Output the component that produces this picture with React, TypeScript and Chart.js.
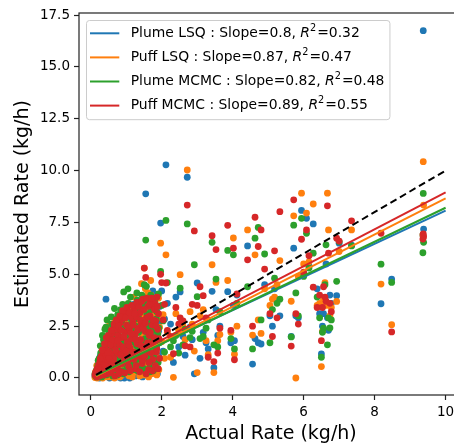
import React, { useEffect, useRef } from "react";
import { Chart, registerables } from "chart.js";

Chart.register(...registerables);

// ---------------- data ----------------
const actualRate = [
  0.12, 0.14, 0.16, 0.18, 0.2, 0.22, 0.24, 0.26, 0.28, 0.3,
  0.32, 0.34, 0.36, 0.38, 0.4, 0.43, 0.45, 0.47, 0.49, 0.51,
  0.53, 0.55, 0.57, 0.59, 0.61, 0.63, 0.65, 0.67, 0.69, 0.71,
  0.73, 0.75, 0.77, 0.79, 0.81, 0.83, 0.85, 0.87, 0.89, 0.91,
  0.93, 0.95, 0.97, 0.99, 1.01, 1.03, 1.05, 1.07, 1.09, 1.11,
  1.13, 1.15, 1.17, 1.19, 1.21, 1.23, 1.25, 1.27, 1.29, 1.31,
  1.33, 1.35, 1.37, 1.39, 1.41, 1.43, 1.45, 1.47, 1.49, 1.51,
  1.53, 1.55, 1.57, 1.59, 1.61, 1.63, 1.65, 1.67, 1.69, 1.71,
  1.73, 1.75, 1.77, 1.79, 1.81, 1.83, 1.85, 1.87, 1.89, 1.91,
  1.94, 1.97, 2.0, 2.04, 2.08, 2.12, 2.16,
  2.25, 2.33, 2.4, 2.48, 2.52, 2.6, 2.66, 2.72, 2.8, 2.86,
  2.92, 3.0, 3.08, 3.17, 3.25, 3.31, 3.42, 3.47, 3.53, 3.58,
  3.64, 3.86, 3.95, 4.02, 4.05, 4.12, 4.42, 4.56, 4.63, 4.72,
  4.8, 4.9, 5.05, 5.12, 5.18, 5.25, 5.33, 5.65, 5.72, 5.78,
  5.85, 5.94, 6.0, 6.08, 6.15, 6.27, 6.38, 6.45, 6.5, 6.53,
  6.56, 6.6, 6.63, 6.67, 6.7, 6.74, 6.78, 6.93, 7.0, 7.35,
  8.18, 8.48, 9.37, 9.38, 9.36,
  0.17, 0.21, 0.25, 0.27, 0.31, 0.33, 0.37, 0.39, 0.41, 0.44,
  0.46, 0.48, 0.5, 0.52, 0.54, 0.56, 0.58, 0.6, 0.62, 0.64,
  0.66, 0.68, 0.7, 0.72, 0.74, 0.76, 0.78, 0.8, 0.82, 0.84,
  0.86, 0.88, 0.9, 0.92, 0.94, 0.96, 0.98, 1.0, 1.02, 1.04,
  1.06, 1.08, 1.1, 1.12, 1.14, 1.16, 1.18, 1.2, 1.22, 1.24,
  1.26, 1.28, 1.3, 1.32, 1.34, 1.36, 1.38, 1.4, 1.42, 1.44,
  1.46, 1.48, 1.5, 1.52, 1.54, 1.56, 1.58, 1.6, 1.62, 1.64,
  1.66, 1.68, 1.7, 1.72, 1.74, 1.76, 1.78, 1.8, 1.82, 1.84,
  1.86, 1.88, 1.9, 1.92,
];

const plumeLSQ = [
  0.1, 0.22, 0.05, 0.4, 0.18, 0.02, 0.6, 0.3, 0.12, 0.85,
  0.05, 0.45, 1.3, 0.2, 0.65, 3.8, 0.1, 1.0, 0.35, 1.6,
  0.0, 0.8, 0.25, 1.15, 0.55, 0.05, 1.85, 0.7, 1.4, 0.3,
  2.1, 0.95, 0.15, 1.6, 0.5, 2.4, 1.1, 0.2, 1.75, 0.6,
  3.3, 0.0, 1.3, 2.2, 0.85, 0.3, 2.6, 1.5, 0.5, 1.95,
  0.15, 2.8, 1.0, 2.3, 0.65, 3.0, 1.55, 0.35, 2.55, 1.2,
  3.45, 0.7, 1.85, 2.95, 0.2, 2.15, 1.4, 3.7, 0.95, 2.7,
  1.65, 8.88, 0.45, 2.35, 3.9, 1.1, 2.0, 0.3, 3.2, 1.45,
  0.7, 4.2, 2.55, 0.55, 1.9, 3.95, 1.2, 2.8, 0.85, 2.25,
  3.45, 7.47, 4.2, 1.3, 2.85, 10.28, 3.6,
  2.6, 0.75, 3.9, 1.5, 4.15, 2.0, 1.1, 9.68, 2.45, 1.85,
  0.2, 4.58, 0.95, 2.2, 1.7, 1.4, 4.18, 0.5, 3.3, 2.05,
  2.5, 4.16, 1.7, 3.5, 1.8, 4.0, 6.37, 0.67, 1.9, 1.7,
  1.64, 4.5, 3.0, 2.5, 4.3, 3.7, 3.0, 2.0, 6.26, 3.0,
  2.9, 8.08, 5.0, 7.7, 5.4, 7.43, 4.3, 3.1, 1.16, 2.5,
  3.1, 3.8, 5.5, 2.9, 2.3, 4.0, 3.6, 3.97, 6.5, 6.4,
  3.58, 4.77, 16.75, 7.18, 6.9,
  0.35, 0.7, 0.0, 1.05, 0.4, 0.75, 1.55, 0.1, 2.0, 0.55,
  1.25, 0.15, 2.35, 0.9, 0.05, 1.75, 0.45, 2.5, 1.0, 0.2,
  2.2, 0.6, 1.65, 0.05, 2.65, 1.3, 0.35, 2.9, 1.7, 0.0,
  2.45, 0.85, 1.95, 0.4, 2.75, 1.2, 0.1, 3.1, 1.55, 0.65,
  2.35, 1.05, 0.0, 3.2, 1.45, 0.4, 2.1, 3.55, 0.85, 1.9,
  0.1, 3.0, 1.35, 0.55, 2.6, 0.25, 3.35, 1.7, 0.8, 2.4,
  0.05, 3.1, 1.15, 2.05, 0.35, 3.5, 1.6, 0.6, 2.9, 0.15,
  3.65, 1.35, 0.4, 2.65, 1.0, 3.3, 0.25, 2.15, 0.9, 3.1,
  1.55, 0.2, 2.7, 1.05,
];

const puffLSQ = [
  0.02, 0.3, 0.12, 0.0, 0.55, 0.2, 0.38, 0.05, 0.75, 0.25,
  1.1, 0.0, 0.6, 0.95, 1.5, 2.4, 0.3, 1.25, 0.05, 1.8,
  0.7, 2.05, 0.15, 1.0, 2.5, 0.4, 1.4, 0.0, 1.65, 0.85,
  2.25, 0.2, 1.2, 2.7, 0.55, 1.9, 0.1, 1.5, 3.1, 0.8,
  2.95, 1.2, 0.3, 2.1, 1.55, 0.6, 3.0, 2.4, 3.45, 0.95,
  1.85, 2.65, 0.05, 1.35, 2.9, 2.0, 0.5, 1.7, 3.3, 0.85,
  2.55, 1.25, 3.65, 0.3, 2.15, 4.55, 1.05, 2.8, 0.15, 5.3,
  1.6, 3.7, 0.65, 2.6, 4.1, 0.05, 3.2, 1.85, 4.7, 0.9,
  2.3, 1.45, 3.5, 0.35, 2.75, 1.5, 3.05, 1.0, 2.15, 3.85,
  2.45, 6.5, 1.75, 3.05, 0.95, 5.94, 2.2,
  1.0, 0.03, 3.1, 2.3, 4.98, 2.5, 1.85, 10.03, 3.2, 2.6,
  1.3, 0.26, 3.0, 3.3, 1.8, 1.12, 5.46, 0.26, 4.61, 1.8,
  2.1, 4.7, 2.2, 6.75, 1.15, 2.5, 7.14, 2.07, 5.94, 2.8,
  2.15, 4.3, 3.5, 3.8, 3.9, 4.5, 5.66, 3.7, 7.82, 0.0,
  4.9, 8.91, 5.5, 7.95, 5.6, 8.39, 3.5, 3.6, 0.55, 2.25,
  3.8, 4.6, 3.5, 8.91, 7.14, 3.0, 3.4, 3.69, 6.1, 7.14,
  4.53, 2.57, 10.43, 8.34, 6.9,
  0.6, 0.1, 0.9, 0.45, 1.3, 0.15, 0.8, 1.75, 0.35, 1.05,
  2.0, 0.5, 1.45, 0.25, 2.6, 0.9, 1.6, 0.05, 2.2, 1.15,
  0.55, 2.75, 0.25, 1.45, 2.0, 0.7, 3.0, 1.1, 0.05, 2.4,
  1.7, 0.4, 2.85, 0.95, 3.35, 0.2, 1.9, 2.6, 0.75, 3.55,
  1.3, 0.1, 2.3, 1.5, 3.15, 0.7, 2.4, 0.25, 3.9, 1.4,
  2.85, 0.45, 2.2, 3.6, 1.05, 2.5, 0.1, 3.4, 1.85, 0.4,
  3.1, 1.65, 2.9, 0.3, 4.3, 1.95, 0.85, 3.6, 1.25, 2.95,
  0.5, 2.35, 4.0, 0.2, 3.25, 1.7, 2.7, 0.6, 3.45, 1.25,
  0.15, 2.9, 1.8, 0.4,
];

const plumeMCMC = [
  0.2, 0.08, 0.35, 0.15, 0.6, 0.28, 0.95, 0.45, 1.2, 0.18,
  1.55, 0.7, 1.85, 0.4, 2.35, 2.45, 0.95, 0.25, 1.4, 0.6,
  1.95, 1.1, 0.35, 2.6, 1.65, 0.8, 2.1, 3.35, 0.5, 1.3,
  2.85, 0.15, 1.75, 1.0, 2.3, 0.7, 1.5, 2.75, 1.25, 0.35,
  4.15, 1.85, 0.9, 2.9, 1.6, 0.55, 4.3, 2.1, 1.2, 2.55,
  0.7, 3.1, 1.75, 0.4, 2.4, 3.5, 1.05, 2.85, 1.55, 3.75,
  0.9, 2.2, 1.35, 3.25, 0.6, 2.65, 1.8, 3.9, 1.1, 4.5,
  2.35, 6.65, 4.42, 1.45, 3.05, 0.85, 2.6, 0.3, 4.0, 1.95,
  3.4, 1.05, 2.3, 0.65, 3.65, 1.4, 2.85, 0.9, 2.1, 4.05,
  1.7, 5.14, 3.5, 2.75, 1.25, 7.6, 4.6,
  1.5, 1.8, 2.05, 1.2, 4.33, 1.6, 2.35, 7.43, 1.95, 2.25,
  5.46, 3.92, 1.9, 2.0, 2.4, 2.8, 6.54, 1.6, 4.77, 1.5,
  3.2, 6.15, 1.9, 5.94, 1.4, 3.6, 4.4, 1.4, 6.74, 7.26,
  2.8, 5.98, 1.7, 3.3, 4.81, 3.6, 3.8, 1.98, 7.37, 4.1,
  3.0, 7.7, 4.9, 6.98, 5.3, 6.02, 3.9, 2.9, 1.0, 2.2,
  2.4, 4.5, 6.42, 1.6, 2.9, 2.41, 2.8, 4.66, 6.58, 6.37,
  5.49, 4.61, 8.9, 6.54, 6.04,
  0.05, 0.85, 0.3, 1.55, 0.05, 2.05, 0.6, 1.05, 1.7, 0.15,
  2.8, 1.15, 0.35, 2.15, 1.45, 0.7, 2.95, 1.25, 0.1, 2.45,
  1.05, 1.9, 0.25, 2.65, 0.95, 3.05, 1.45, 0.35, 2.0, 3.3,
  0.8, 1.65, 3.55, 0.2, 2.4, 1.3, 3.2, 0.65, 2.55, 1.45,
  3.6, 0.3, 2.05, 3.9, 1.0, 2.75, 0.55, 1.95, 3.3, 0.8,
  2.5, 1.25, 4.1, 0.35, 2.95, 1.6, 3.45, 0.95, 2.35, 4.0,
  1.3, 2.7, 0.45, 3.55, 1.9, 0.2, 3.1, 2.2, 1.05, 3.8,
  2.45, 0.6, 3.3, 1.55, 2.8, 0.35, 3.7, 1.2, 2.5, 0.45,
  3.2, 1.85, 0.75, 2.4,
];

const puffMCMC = [
  0.15, 0.28, 0.1, 0.45, 0.3, 0.62, 0.2, 0.8, 0.5, 1.05,
  0.35, 0.9, 1.25, 0.65, 1.45, 1.1, 0.4, 1.7, 0.85, 1.3,
  0.55, 1.9, 1.15, 0.7, 2.15, 1.55, 0.95, 2.5, 1.8, 0.45,
  2.35, 1.2, 2.05, 0.65, 1.6, 2.65, 0.3, 1.95, 2.85, 1.35,
  3.05, 0.85, 2.2, 1.05, 2.55, 1.75, 3.2, 0.55, 2.35, 1.45,
  2.95, 1.9, 0.95, 2.7, 1.25, 3.35, 2.1, 0.45, 2.95, 1.65,
  3.55, 2.4, 1.05, 3.15, 1.85, 2.6, 0.7, 3.8, 1.5, 5.3,
  2.25, 4.85, 2.9, 1.3, 3.45, 0.4, 2.05, 3.0, 3.75, 1.6,
  2.55, 0.9, 3.4, 1.95, 3.6, 2.75, 1.25, 3.9, 2.35, 3.1,
  0.95, 5.0, 4.6, 2.8, 3.55, 4.58, 2.3,
  2.0, 1.17, 3.4, 2.6, 2.9, 2.75, 1.55, 8.34, 1.5, 3.55,
  7.09, 3.5, 4.4, 3.97, 2.9, 1.0, 6.86, 0.79, 6.19, 1.2,
  2.4, 7.36, 2.3, 6.26, 0.88, 4.05, 5.7, 2.5, 7.75, 6.34,
  7.14, 5.25, 3.1, 2.0, 6.13, 2.9, 8.02, 1.54, 8.59, 3.1,
  2.6, 6.69, 5.1, 7.14, 5.9, 4.38, 3.4, 4.0, 1.8, 3.4,
  4.4, 3.9, 3.7, 8.3, 6.02, 3.6, 3.2, 6.74, 6.6, 7.58,
  6.98, 2.22, 6.95, 6.81, 6.7,
  0.05, 0.42, 0.1, 0.95, 0.25, 1.35, 0.15, 1.65, 0.6, 1.95,
  0.2, 1.2, 2.05, 0.95, 0.25, 1.6, 2.3, 0.4, 1.85, 0.75,
  2.6, 0.1, 1.35, 2.8, 0.5, 1.8, 2.5, 0.2, 3.0, 1.1,
  2.3, 0.7, 3.25, 1.5, 2.0, 0.25, 2.9, 1.3, 3.4, 0.8,
  2.45, 1.6, 3.15, 0.35, 2.15, 3.5, 1.2, 2.55, 0.9, 3.1,
  1.85, 0.6, 3.65, 2.3, 1.15, 3.45, 0.3, 2.8, 1.55, 3.7,
  0.85, 2.4, 3.3, 1.05, 2.65, 0.2, 3.85, 1.7, 2.95, 0.75,
  3.55, 2.2, 1.2, 3.85, 0.35, 2.8, 1.75, 3.3, 0.6, 2.5,
  1.4, 3.45, 0.45, 1.9,
];

const seriesNames = ["Plume LSQ", "Puff LSQ", "Plume MCMC", "Puff MCMC"];
const seriesColors = ["#1f77b4", "#ff7f0e", "#2ca02c", "#d62728"];
const fitSlopes = [0.8, 0.87, 0.82, 0.89];
const fitIntercepts = [0.07, -0.04, 0.01, 0.05];
const fitR2 = [0.32, 0.47, 0.48, 0.55];
const fitRange = [0.15, 10];

const xTicks = [0, 2, 4, 6, 8, 10];
const yTicks = [0, 2.5, 5, 7.5, 10, 12.5, 15, 17.5];
const xLabel = "Actual Rate (kg/h)";
const yLabel = "Estimated Rate (kg/h)";

// ---------------- layout constants ----------------
const W = 480;
const H = 452;
const FONT = '"DejaVu Sans", "Noto Sans", sans-serif';

const frameLegendPlugin = {
  id: "frameLegend",
  afterDatasetsDraw(chart: any) {
    const { ctx, chartArea: ca } = chart;
    ctx.save();
    ctx.strokeStyle = "#222";
    ctx.lineWidth = 1.2;
    ctx.strokeRect(ca.left, ca.top, ca.right - ca.left, ca.bottom - ca.top);
    ctx.restore();
  },
  afterDraw(chart: any) {
    const { ctx, chartArea: ca } = chart;
    const fs = 13.9;
    const base = `${fs}px ${FONT}`;
    const ital = `italic ${fs}px ${FONT}`;
    const sup = `${fs * 0.7}px ${FONT}`;
    const boxX = ca.left + 7;
    const boxY = ca.top + 7;
    const textOff = 44.7;
    const rowFirst = 13.3;
    const rowGap = 24.1;
    const rows = seriesNames.map((n, i) => [
      { t: `${n} : Slope=${fitSlopes[i]}, `, f: base, dy: 0 },
      { t: "R", f: ital, dy: 0 },
      { t: "2", f: sup, dy: -fs * 0.36 },
      { t: `=${fitR2[i]}`, f: base, dy: 0 },
    ]);
    ctx.save();
    let maxW = 0;
    rows.forEach((parts) => {
      let w = 0;
      parts.forEach((p) => {
        ctx.font = p.f;
        w += ctx.measureText(p.t).width + (p.t === "2" ? 1 : 0);
      });
      maxW = Math.max(maxW, w);
    });
    const boxW = textOff + maxW + 5;
    const boxH = rowFirst * 2 + rowGap * 3 + 0.3;
    ctx.beginPath();
    if ((ctx as any).roundRect) (ctx as any).roundRect(boxX + 0.5, boxY + 0.5, boxW, boxH, 3);
    else ctx.rect(boxX + 0.5, boxY + 0.5, boxW, boxH);
    ctx.fillStyle = "rgba(255,255,255,0.8)";
    ctx.fill();
    ctx.strokeStyle = "#cccccc";
    ctx.lineWidth = 1;
    ctx.stroke();
    rows.forEach((parts, i) => {
      const y = boxY + rowFirst + rowGap * i;
      ctx.beginPath();
      ctx.strokeStyle = seriesColors[i];
      ctx.lineWidth = 2;
      ctx.moveTo(boxX + 4, y);
      ctx.lineTo(boxX + 33.3, y);
      ctx.stroke();
      let x = boxX + textOff;
      ctx.fillStyle = "#000";
      ctx.textBaseline = "middle";
      ctx.textAlign = "left";
      parts.forEach((p) => {
        ctx.font = p.f;
        ctx.fillText(p.t, x, y + p.dy);
        x += ctx.measureText(p.t).width + (p.t === "2" ? 1 : 0);
      });
    });
    ctx.restore();
  },
};

export default function App() {
  const ref = useRef<HTMLCanvasElement | null>(null);

  useEffect(() => {
    if (!ref.current) return;
    const estimates = [plumeLSQ, puffLSQ, plumeMCMC, puffMCMC];
    const scatterSets = estimates.map((ys, i) => ({
      label: seriesNames[i],
      data: actualRate.map((x, k) => ({ x, y: ys[k] })),
      backgroundColor: seriesColors[i],
      borderWidth: 0,
      pointRadius: 3.4,
      pointHoverRadius: 3.4,
      pointBorderWidth: 0,
      showLine: false,
      order: 20 - i,
    }));
    const fitSets = fitSlopes.map((s, i) => ({
      label: seriesNames[i] + " fit",
      data: fitRange.map((x) => ({ x, y: s * x + fitIntercepts[i] })),
      borderColor: seriesColors[i],
      backgroundColor: seriesColors[i],
      borderWidth: 2,
      pointRadius: 0,
      showLine: true,
      fill: false,
      order: 10 - i,
    }));
    const identitySet = {
      label: "1:1",
      data: fitRange.map((x) => ({ x, y: x })),
      borderColor: "#000",
      borderWidth: 2,
      borderDash: [7, 4],
      pointRadius: 0,
      showLine: true,
      fill: false,
      order: 1,
    };

    const tickFont = { family: FONT, size: 13.5 };
    const chart = new Chart(ref.current, {
      type: "scatter",
      data: { datasets: [...scatterSets, ...fitSets, identitySet] as any },
      options: {
        responsive: false,
        animation: false,
        devicePixelRatio: 1,
        layout: { padding: { left: 0, top: 13, right: 17, bottom: 0 } },
        plugins: { legend: { display: false }, tooltip: { enabled: false } },
        scales: {
          x: {
            type: "linear",
            min: -0.33,
            max: 10.49,
            afterBuildTicks: (s: any) => {
              s.ticks = xTicks.map((v) => ({ value: v }));
            },
            afterFit: (s: any) => {
              s.height = H - 395;
            },
            grid: { drawOnChartArea: false, drawTicks: true, tickLength: 5, tickColor: "#222", tickWidth: 1.2 },
            border: { display: false },
            ticks: { font: tickFont, color: "#000", padding: 4, maxRotation: 0, callback: (v: any) => String(v) },
            title: { display: true, text: xLabel, font: { family: FONT, size: 19 }, color: "#000", padding: { top: 0, bottom: 6.6 } },
          },
          y: {
            type: "linear",
            min: -0.82,
            max: 17.6,
            afterBuildTicks: (s: any) => {
              s.ticks = yTicks.map((v) => ({ value: v }));
            },
            afterFit: (s: any) => {
              s.width = 79;
            },
            grid: { drawOnChartArea: false, drawTicks: true, tickLength: 5, tickColor: "#222", tickWidth: 1.2 },
            border: { display: false },
            ticks: { font: tickFont, color: "#000", padding: 4, callback: (v: any) => Number(v).toFixed(1) },
            title: { display: true, text: yLabel, font: { family: FONT, size: 19 }, color: "#000", padding: { top: 11.3, bottom: 0 } },
          },
        },
      } as any,
      plugins: [frameLegendPlugin],
    });
    return () => chart.destroy();
  }, []);

  return (
    <div style={{ position: "fixed", left: 0, top: 0, width: 454, height: 443, overflow: "hidden", background: "#fff" }}>
      <canvas ref={ref} width={W} height={H} style={{ display: "block", width: W, height: H }} />
    </div>
  );
}
